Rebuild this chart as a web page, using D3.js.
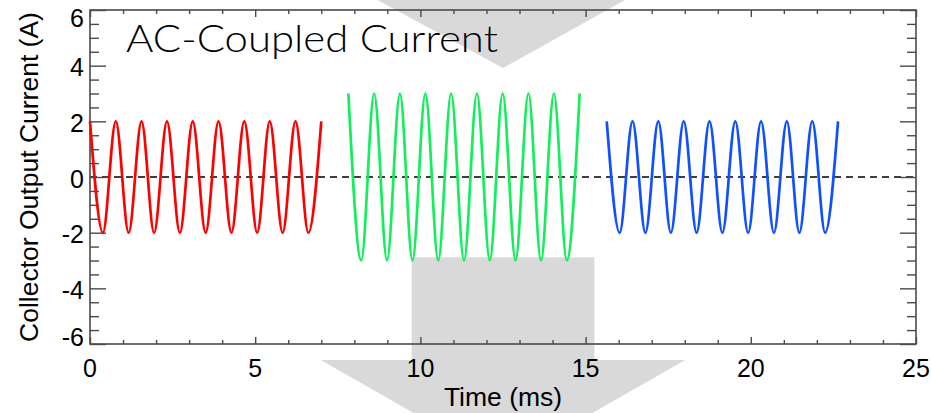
<!DOCTYPE html>
<html>
<head>
<meta charset="utf-8">
<script src="https://cdn.jsdelivr.net/npm/d3@7"></script>
<style>
  html, body { margin: 0; padding: 0; background: #fff; }
  svg { display: block; }
</style>
</head>
<body>
<svg id="chart" width="931" height="413"></svg>
<script>
// ---- data (peaks and troughs of each burst) ----
const redTimes   = [0, 0.39, 0.78, 1.17, 1.56, 1.94, 2.33, 2.72, 3.11, 3.5, 3.89, 4.28, 4.67, 5.06, 5.44, 5.83, 6.22, 6.61, 7.0];
const redValues  = [2, -2, 2, -2, 2, -2, 2, -2, 2, -2, 2, -2, 2, -2, 2, -2, 2, -2, 2];
const greenTimes  = [7.82, 8.21, 8.6, 8.99, 9.38, 9.76, 10.15, 10.54, 10.93, 11.32, 11.71, 12.1, 12.49, 12.88, 13.27, 13.65, 14.04, 14.43, 14.82];
const greenValues = [3, -3, 3, -3, 3, -3, 3, -3, 3, -3, 3, -3, 3, -3, 3, -3, 3, -3, 3];
const blueTimes  = [15.64, 16.03, 16.42, 16.81, 17.2, 17.58, 17.97, 18.36, 18.75, 19.14, 19.53, 19.92, 20.31, 20.7, 21.09, 21.47, 21.86, 22.25, 22.64];
const blueValues = [2, -2, 2, -2, 2, -2, 2, -2, 2, -2, 2, -2, 2, -2, 2, -2, 2, -2, 2];
const xTickValues = [0, 5, 10, 15, 20, 25];
const yTickValues = [-6, -4, -2, 0, 2, 4, 6];
const titleText = "AC-Coupled Current";
const xLabel = "Time (ms)";
const yLabel = "Collector Output Current (A)";

const series = [
  { name: "red",   times: redTimes,   values: redValues,   color: "#ff0000" },
  { name: "green", times: greenTimes, values: greenValues, color: "#12ee5c" },
  { name: "blue",  times: blueTimes,  values: blueValues,  color: "#1050ff" }
];

// ---- layout ----
const svg = d3.select("#chart");
const L = 90, R = 916, T = 10, B = 344;
const x = d3.scaleLinear().domain([0, 25]).range([L, R]);
const y = d3.scaleLinear().domain([-6, 6]).range([B, T]);
const gray = "#d9d9d9";
const axisColor = "#4a4a4a";

// ---- decorative gray arrows behind the chart ----
const deco = svg.append("g");
deco.append("polygon")
  .attr("points", [[359, -10], [643, -10], [503, 68]].map(p => p.join(",")).join(" "))
  .attr("fill", gray);
deco.append("rect")
  .attr("x", 411.7).attr("y", 257.3).attr("width", 182.6).attr("height", 110)
  .attr("fill", gray);
deco.append("polygon")
  .attr("points", [[320.7, 360], [685.3, 360], [503, 464]].map(p => p.join(",")).join(" "))
  .attr("fill", gray);

// ---- title ----
svg.append("text")
  .attr("x", 126).attr("y", 52)
  .attr("font-family", "Lato, 'Open Sans', sans-serif")
  .attr("font-size", 36.5)
  .attr("font-weight", 300)
  .attr("textLength", 372).attr("lengthAdjust", "spacingAndGlyphs")
  .attr("fill", "#000")
  .text(titleText);

// ---- zero dashed line ----
svg.append("line")
  .attr("x1", x(0)).attr("x2", x(25))
  .attr("y1", y(0)).attr("y2", y(0))
  .attr("stroke", "#000").attr("stroke-width", 1.3)
  .attr("stroke-dasharray", "7,5");

// ---- axes (ticks inside) ----
const font = "'Liberation Sans', Arial, sans-serif";
const xMinor = d3.range(0, 26, 1).filter(v => v % 5 !== 0);
const yMinor = d3.range(-6, 6.01, 0.5).filter(v => Math.abs(v % 2) > 1e-6);

function styleAxis(g) {
  g.select(".domain").remove();
  g.selectAll(".tick line").attr("stroke", axisColor).attr("stroke-width", 1.4);
  g.selectAll("text").remove();
}

// bottom
svg.append("g").attr("transform", `translate(0,${B})`)
  .call(d3.axisBottom(x).tickValues(xTickValues).tickSizeInner(-7).tickSizeOuter(0)).call(styleAxis);
svg.append("g").attr("transform", `translate(0,${B})`)
  .call(d3.axisBottom(x).tickValues(xMinor).tickSizeInner(-4).tickSizeOuter(0)).call(styleAxis);
// top
svg.append("g").attr("transform", `translate(0,${T})`)
  .call(d3.axisTop(x).tickValues(xTickValues).tickSizeInner(-7).tickSizeOuter(0)).call(styleAxis);
svg.append("g").attr("transform", `translate(0,${T})`)
  .call(d3.axisTop(x).tickValues(xMinor).tickSizeInner(-4).tickSizeOuter(0)).call(styleAxis);
// left
svg.append("g").attr("transform", `translate(${L},0)`)
  .call(d3.axisLeft(y).tickValues(yTickValues).tickSizeInner(-16).tickSizeOuter(0)).call(styleAxis);
svg.append("g").attr("transform", `translate(${L},0)`)
  .call(d3.axisLeft(y).tickValues(yMinor).tickSizeInner(-9).tickSizeOuter(0)).call(styleAxis);
// right
svg.append("g").attr("transform", `translate(${R},0)`)
  .call(d3.axisRight(y).tickValues(yTickValues).tickSizeInner(-16).tickSizeOuter(0)).call(styleAxis);
svg.append("g").attr("transform", `translate(${R},0)`)
  .call(d3.axisRight(y).tickValues(yMinor).tickSizeInner(-9).tickSizeOuter(0)).call(styleAxis);

// frame
svg.append("rect")
  .attr("x", L).attr("y", T).attr("width", R - L).attr("height", B - T)
  .attr("fill", "none").attr("stroke", axisColor).attr("stroke-width", 1.6);

// tick labels
svg.append("g").selectAll("text").data(xTickValues).join("text")
  .attr("x", d => x(d)).attr("y", 377)
  .attr("text-anchor", "middle")
  .attr("font-family", font).attr("font-size", 25).attr("fill", "#000")
  .text(d => d);
svg.append("g").selectAll("text").data(yTickValues).join("text")
  .attr("x", 84)
  .attr("y", d => Math.min(Math.max(y(d) + 2, 18), 337))
  .attr("dy", "0.35em")
  .attr("text-anchor", "end")
  .attr("font-family", font).attr("font-size", 25).attr("fill", "#000")
  .text(d => d);

// axis titles
svg.append("text")
  .attr("x", 503).attr("y", 406)
  .attr("text-anchor", "middle")
  .attr("font-family", font).attr("font-size", 26.5).attr("fill", "#000")
  .text(xLabel);
svg.append("text")
  .attr("transform", "translate(38,177) rotate(-90)")
  .attr("text-anchor", "middle")
  .attr("font-family", font).attr("font-size", 26.5).attr("fill", "#000")
  .text(yLabel);

// ---- curves ----
const line = d3.line()
  .x(d => x(d[0])).y(d => y(d[1]))
  .curve(d3.curveMonotoneX);
svg.append("g").selectAll("path").data(series).join("path")
  .attr("d", s => line(s.times.map((t, i) => [t, s.values[i]])))
  .attr("fill", "none")
  .attr("stroke", s => s.color)
  .attr("stroke-width", 2.7)
  .attr("stroke-linejoin", "round");
</script>
</body>
</html>
